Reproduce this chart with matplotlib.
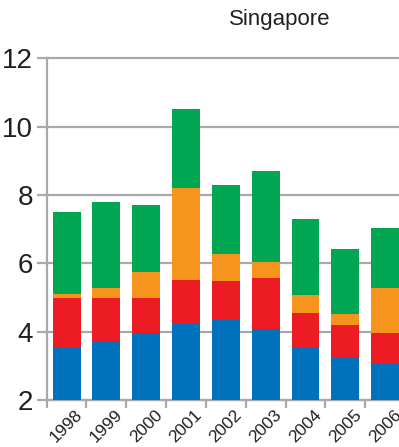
import matplotlib
matplotlib.use("Agg")
import matplotlib.pyplot as plt
import numpy as np

years = ["1998", "1999", "2000", "2001", "2002", "2003", "2004", "2005", "2006"]
blue = [3.54, 3.70, 3.95, 4.24, 4.37, 4.08, 3.55, 3.24, 3.06]
red = [1.44, 1.28, 1.03, 1.27, 1.11, 1.50, 0.99, 0.95, 0.90]
orange = [0.12, 0.29, 0.76, 2.70, 0.80, 0.46, 0.53, 0.32, 1.31]
green = [2.40, 2.52, 1.96, 2.30, 2.01, 2.66, 2.22, 1.91, 1.76]
yticks = [2, 4, 6, 8, 10, 12]

plt.rcParams['font.family'] = ['Liberation Sans', 'DejaVu Sans']
grey = '#a7a9ac'

fig = plt.figure(figsize=(3.99, 4.47), dpi=100)
ax = fig.add_axes([0.117, 0.105, 0.898, 0.765])

x = np.arange(len(years))
bottom = np.zeros(len(years))
for vals, col in [(blue, '#0071bc'), (red, '#ed1c24'), (orange, '#f7941d'), (green, '#00a651')]:
    ax.bar(x, vals, 0.7, bottom=bottom, color=col, zorder=3)
    bottom = bottom + np.array(vals)

ax.set_xlim(-0.5, 8.5)
ax.set_ylim(2, 12)
ax.set_yticks(yticks)
ax.set_yticklabels([str(t) for t in yticks], fontsize=20, color='#231f20')
ax.yaxis.grid(True, color=grey, linewidth=1.6, zorder=0)
for gl in ax.get_ygridlines():
    gl.set_clip_on(False)
ax.set_axisbelow(True)

# year labels sit under the bars, tick marks between them
ax.set_xticks(x)
ax.set_xticklabels(years, rotation=45, ha='center', fontsize=12.5, color='#231f20')
ax.set_xticks(np.arange(-0.5, 9, 1), minor=True)
ax.tick_params(axis='x', which='major', length=0, pad=5)
ax.tick_params(axis='x', which='minor', length=6, width=1.6, color=grey)
ax.tick_params(axis='y', length=7, width=1.6, color=grey, pad=3)

for s in ['top', 'right']:
    ax.spines[s].set_visible(False)
for s in ['left', 'bottom']:
    ax.spines[s].set_color(grey)
    ax.spines[s].set_linewidth(1.6)

fig.text(0.70, 1 - 20 / 447, 'Singapore', fontsize=16, ha='center', va='center', color='#231f20')

fig.savefig('out.png', dpi=100)
